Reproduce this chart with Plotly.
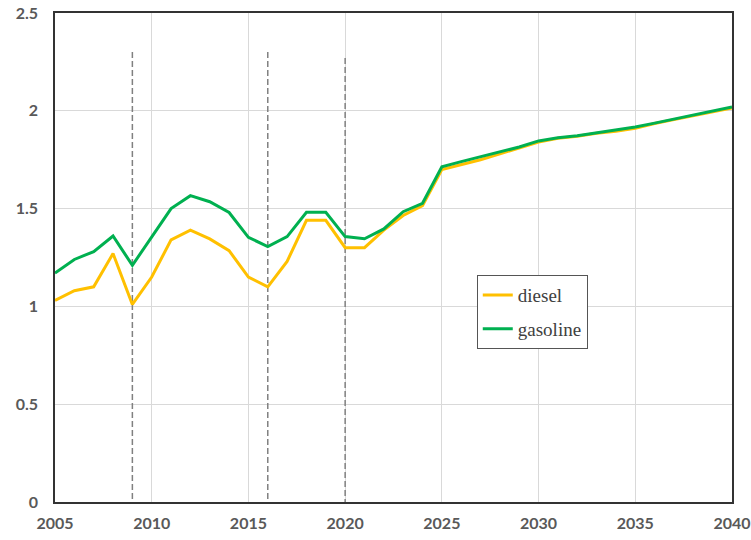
import plotly.graph_objects as go

years = list(range(2005, 2041))
diesel = [1.03, 1.08, 1.10, 1.27, 1.01, 1.15, 1.34, 1.39, 1.345, 1.285, 1.15, 1.10,
          1.23, 1.44, 1.44, 1.30, 1.30, 1.39, 1.465, 1.515, 1.70, 1.725, 1.75, 1.78,
          1.81, 1.84, 1.86, 1.87, 1.885, 1.895, 1.91, 1.935, 1.955, 1.975, 1.995, 2.015]
gasoline = [1.17, 1.24, 1.28, 1.36, 1.21, 1.355, 1.50, 1.566, 1.535, 1.48, 1.353, 1.306,
            1.357, 1.481, 1.481, 1.357, 1.346, 1.396, 1.484, 1.527, 1.714, 1.74, 1.765, 1.79,
            1.815, 1.846, 1.862, 1.873, 1.888, 1.90, 1.917, 1.937, 1.957, 1.977, 1.997, 2.02]
event_years = [2009, 2016, 2020]
event_tops = [2.3, 2.3, 2.27]
x_ticks = [2005, 2010, 2015, 2020, 2025, 2030, 2035, 2040]
y_ticks = [0, 0.5, 1, 1.5, 2, 2.5]
y_tick_text = ["0", "0.5", "1", "1.5", "2", "2.5"]

fig = go.Figure()

# dashed vertical event lines (drawn top-down so the dash pattern starts at the top)
dx, dy = [], []
for yr, top in zip(event_years, event_tops):
    dx += [yr, yr, None]
    dy += [top, 0, None]
fig.add_trace(go.Scatter(x=dx, y=dy, mode="lines", showlegend=False, hoverinfo="skip",
                         line=dict(color="#808080", width=1.5, dash="6px,3px")))

fig.add_trace(go.Scatter(x=years, y=diesel, mode="lines", name="diesel", legendgroup="d",
                         line=dict(color="#FFC000", width=3)))
fig.add_trace(go.Scatter(x=years, y=gasoline, mode="lines", name="gasoline", legendgroup="g",
                         line=dict(color="#00B050", width=3)))

tick_font = dict(family="Lato", size=16, color="#595959", weight="bold")

fig.update_layout(
    width=751, height=540,
    margin=dict(l=55, r=19, t=13, b=38),
    plot_bgcolor="white", paper_bgcolor="white",
    xaxis=dict(range=[2005, 2040], tickvals=x_ticks, showgrid=True, gridcolor="#d9d9d9",
               gridwidth=1, showline=True, linecolor="#333333", linewidth=1.5, mirror=True,
               zeroline=False, tickfont=tick_font, ticks="", ticklabelstandoff=6,
               automargin=False),
    yaxis=dict(range=[0, 2.5], tickvals=y_ticks, ticktext=y_tick_text, showgrid=True,
               gridcolor="#d9d9d9", gridwidth=1, showline=True, linecolor="#333333",
               linewidth=1.5, mirror=True, zeroline=False, tickfont=tick_font, ticks="",
               ticklabelstandoff=12, automargin=False),
    legend=dict(x=0.623, y=0.464, xanchor="left", yanchor="top", bgcolor="white",
                bordercolor="#555555", borderwidth=1, tracegroupgap=6, itemwidth=30,
                font=dict(family="Liberation Serif", size=19, color="#404040")),
    showlegend=True,
)

fig.write_html("out.html", config={"displayModeBar": False},
               post_script="document.body.style.margin='0';")
